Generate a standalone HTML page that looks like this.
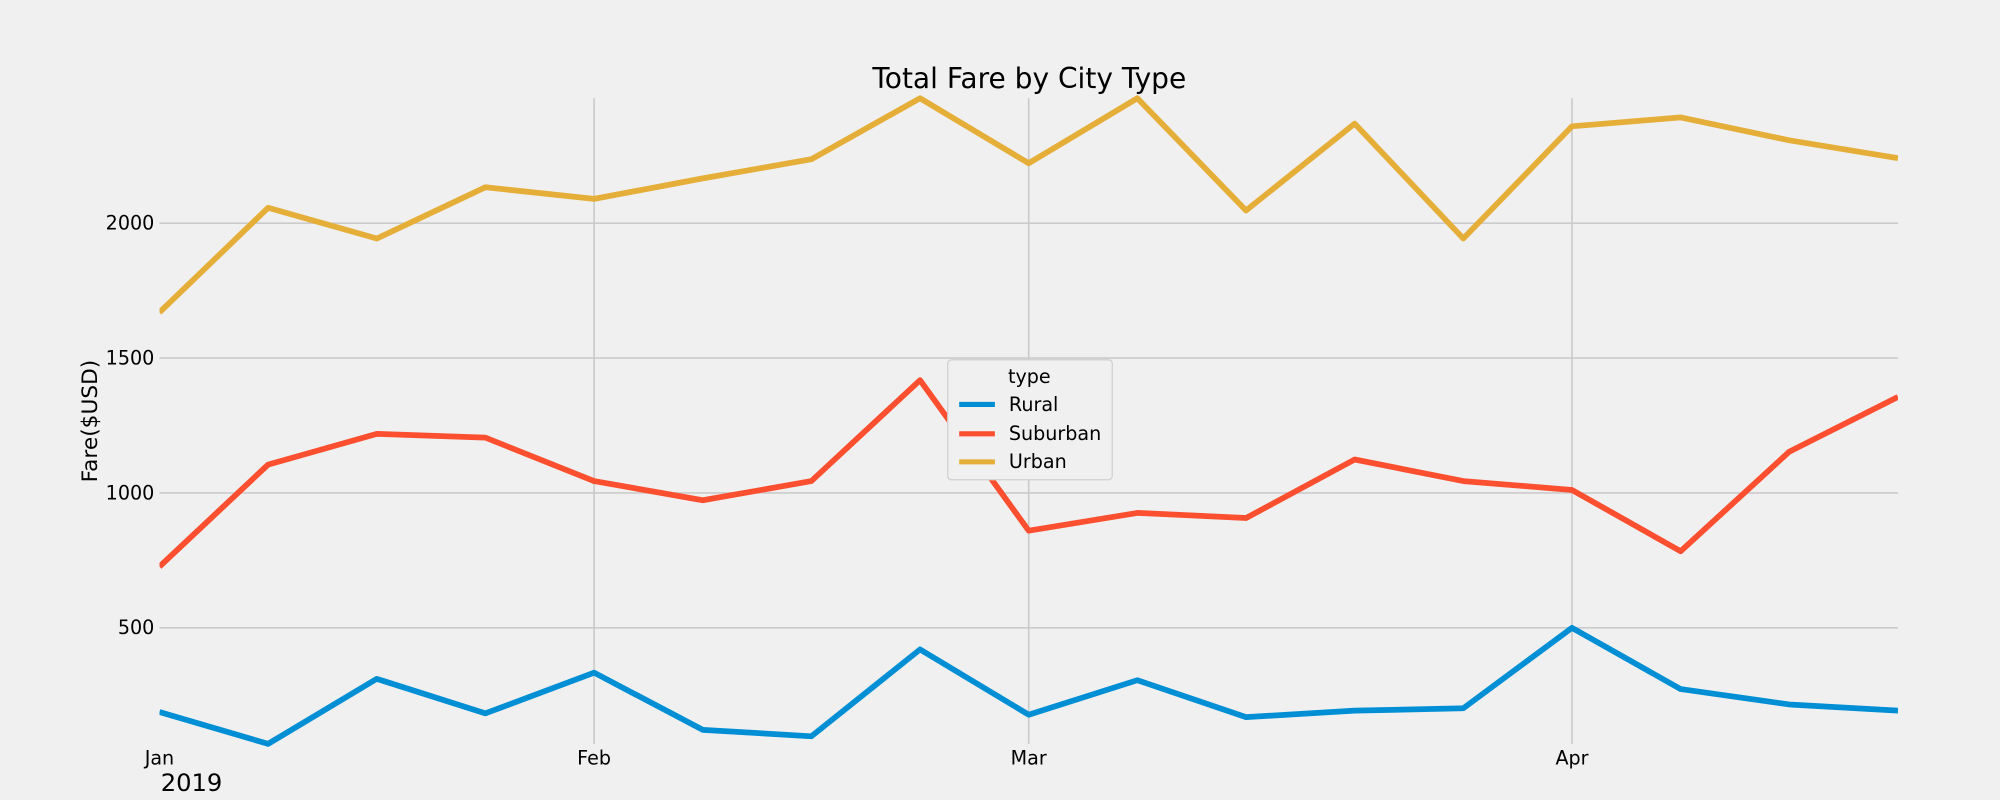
<!DOCTYPE html>
<html><head><meta charset="utf-8"><style>
html,body{margin:0;padding:0;background:#f0f0f0;}
svg{display:block;font-family:"DejaVu Sans","Liberation Sans",sans-serif;}
</style></head><body>
<svg id="chart" width="2000" height="800" viewBox="0 0 1568 627" preserveAspectRatio="none" xmlns="http://www.w3.org/2000/svg">
<defs><clipPath id="plotclip"><rect x="125" y="60" width="1363" height="540"/></clipPath></defs>
<rect x="0" y="0" width="1568" height="627" fill="#f0f0f0"/>
<text x="807" y="69" font-size="22" text-anchor="middle" fill="#000">Total Fare by City Type</text>
<text transform="translate(76,330) rotate(-90)" font-size="17" text-anchor="middle" fill="#000">Fare($USD)</text>
<g id="grid"></g>
<g id="series" clip-path="url(#plotclip)"></g>
<g id="ticks"></g>
<text x="126" y="620" font-size="19" fill="#000">2019</text>
<g>
<rect x="743" y="282" width="129" height="94" rx="3" fill="#f0f0f0" stroke="#d0d0d0" stroke-width="1"/>
<text x="807" y="300" font-size="15" text-anchor="middle" fill="#000">type</text>
<line x1="752" y1="317" x2="780" y2="317" stroke="#008fd5" stroke-width="4"/>
<text x="791" y="322" font-size="15" fill="#000">Rural</text>
<line x1="752" y1="340" x2="780" y2="340" stroke="#fc4f30" stroke-width="4"/>
<text x="791" y="345" font-size="15" fill="#000">Suburban</text>
<line x1="752" y1="362" x2="780" y2="362" stroke="#e5ae38" stroke-width="4"/>
<text x="791" y="367" font-size="15" fill="#000">Urban</text>
</g>
</svg>
<script>
const weeks = ["2019-01-06","2019-01-13","2019-01-20","2019-01-27","2019-02-03","2019-02-10","2019-02-17","2019-02-24","2019-03-03","2019-03-10","2019-03-17","2019-03-24","2019-03-31","2019-04-07","2019-04-14","2019-04-21","2019-04-28"];
const rural = [188,70,311,183,334,122,98,420,178,306,169,193,202,500,273,216,193];
const suburban = [727,1105,1219,1205,1044,973,1044,1418,860,926,907,1124,1044,1011,784,1153,1356];
const urban = [1669,2057,1943,2133,2090,2166,2237,2463,2222,2463,2047,2369,1943,2359,2392,2307,2241];
const yTicks = [500,1000,1500,2000];
const monthLabels = ["Jan","Feb","Mar","Apr"];
const monthIdx = [0,4,8,13];

const NS = "http://www.w3.org/2000/svg";
const X0 = 125, X1 = 1488, Y0 = 583, Y1 = 77;
const all = rural.concat(suburban, urban);
const vmin = Math.min(...all), vmax = Math.max(...all);
const xs = i => X0 + (X1 - X0) * i / (weeks.length - 1);
const ys = v => Y0 - (Y0 - Y1) * (v - vmin) / (vmax - vmin);
function mk(tag, attrs, parent){ const e = document.createElementNS(NS, tag); for (const k in attrs) e.setAttribute(k, attrs[k]); parent.appendChild(e); return e; }
const grid = document.getElementById('grid'), ticks = document.getElementById('ticks'), ser = document.getElementById('series');

yTicks.forEach(t => {
  const y = ys(t);
  const l = mk('line', {x1: X0, x2: X1, y1: y, y2: y, stroke: '#cbcbcb', 'stroke-width': 1.3}, grid);
  
  
  const tx = mk('text', {x: 121, y: y + 5, 'font-size': 15, 'text-anchor': 'end', fill: '#000'}, ticks);
  tx.textContent = t;
  
  
});
monthIdx.forEach((m, k) => {
  const x = xs(m);
  if (k > 0) {
    const l = mk('line', {x1: x, x2: x, y1: Y1, y2: Y0, stroke: '#cbcbcb', 'stroke-width': 1.3}, grid);
    
    
  }
  const tx = mk('text', {x: x, y: 599, 'font-size': 15, 'text-anchor': 'middle', fill: '#000'}, ticks);
  tx.textContent = monthLabels[k];
  
  
});
[[rural, '#008fd5', 'rural-line'], [suburban, '#fc4f30', 'suburban-line'], [urban, '#e5ae38', 'urban-line']].forEach(([d, c, n]) => {
  const p = mk('polyline', {points: d.map((v, i) => xs(i) + ',' + ys(v)).join(' '), fill: 'none', stroke: c, 'stroke-width': 4.5, 'stroke-linejoin': 'round'}, ser);
  
  
});
</script>
</body></html>
